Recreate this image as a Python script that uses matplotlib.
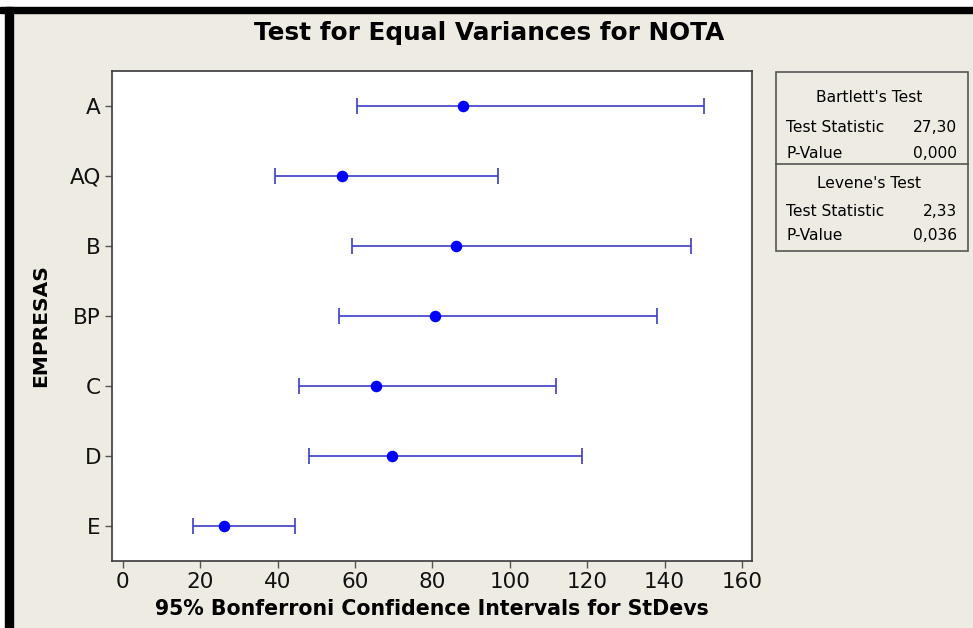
import matplotlib.pyplot as plt
from matplotlib.patches import Rectangle

# Intervalos de Bonferroni (95%) para o desvio padrão de NOTA por empresa
empresas = ['A', 'AQ', 'B', 'BP', 'C', 'D', 'E']
desvio = [87.8, 56.7, 86.0, 80.6, 65.5, 69.5, 26.2]
inferior = [60.6, 39.2, 59.3, 55.8, 45.4, 48.1, 18.1]
superior = [150.1, 96.9, 146.9, 138.0, 111.9, 118.6, 44.4]

xticks = [0, 20, 40, 60, 80, 100, 120, 140, 160]

bartlett_stat = '27,30'
bartlett_p = '0,000'
levene_stat = '2,33'
levene_p = '0,036'

fundo = '#EEEBE2'
W, H = 973, 628

fig = plt.figure(figsize=(9.73, 6.28), dpi=100, facecolor=fundo)

# moldura preta (topo e lado esquerdo)
fig.patches.append(Rectangle((0, 1 - 7 / H), 1, 7 / H, transform=fig.transFigure,
                             color='white', zorder=0))
fig.patches.append(Rectangle((0, 0), 5 / W, 1, transform=fig.transFigure,
                             color='white', zorder=0))
fig.patches.append(Rectangle((0, 1 - 13 / H), 1, 6 / H, transform=fig.transFigure,
                             color='black', zorder=1))
fig.patches.append(Rectangle((5 / W, 0), 8 / W, 1 - 7 / H, transform=fig.transFigure,
                             color='black', zorder=1))

ax = fig.add_axes([112 / W, (H - 561) / H, 640 / W, 490 / H])
ax.set_facecolor('white')

ypos = list(range(len(empresas)))
xerr = [[d - lo for d, lo in zip(desvio, inferior)],
        [hi - d for d, hi in zip(desvio, superior)]]
ax.errorbar(desvio, ypos, xerr=xerr, fmt='none', ecolor='#3C3CC8',
            elinewidth=1.2, capsize=5.8, capthick=1.2)
ax.plot(desvio, ypos, 'o', color='#0000FF', markersize=7.3, zorder=3)

ax.set_xlim(-2.8, 162.6)
ax.set_ylim(len(empresas) - 0.5, -0.5)
ax.set_yticks(ypos)
ax.set_yticklabels(empresas)
ax.set_xticks(xticks)

for s in ax.spines.values():
    s.set_color('#3A3A3A')
    s.set_linewidth(1.2)
ax.tick_params(axis='both', direction='out', length=5, width=1, color='#555555',
               labelsize=15.5, labelcolor='#111111')
ax.tick_params(axis='x', pad=3)
ax.tick_params(axis='y', pad=3)

ax.set_xlabel('95% Bonferroni Confidence Intervals for StDevs', fontsize=14.8,
              fontweight='bold', labelpad=5)
ax.set_ylabel('EMPRESAS', fontsize=14.5, fontweight='bold')
ax.yaxis.set_label_coords(-0.097, 0.48)

fig.text(489 / W, 1 - 33 / H, 'Test for Equal Variances for NOTA', fontsize=17.8,
         fontweight='bold', ha='center', va='center')

# caixa com os testes de Bartlett e Levene
x0, x1 = 776 / W, 968 / W
y_top, y_mid, y_bot = 1 - 72 / H, 1 - 164 / H, 1 - 251 / H
fig.patches.append(Rectangle((x0, y_bot), x1 - x0, y_top - y_bot,
                             transform=fig.transFigure, facecolor=fundo,
                             edgecolor='#555555', linewidth=1.2, zorder=2))
fig.add_artist(plt.Line2D([x0, x1], [y_mid, y_mid], transform=fig.transFigure,
                          color='#555555', linewidth=1.2, zorder=3))

fs = 11.2
xl, xr, xc = 786 / W, 957 / W, 869 / W
fig.text(xc, 1 - 98 / H, "Bartlett's Test", fontsize=fs, ha='center', va='center')
fig.text(xl, 1 - 128 / H, 'Test Statistic', fontsize=fs, ha='left', va='center')
fig.text(xr, 1 - 128 / H, bartlett_stat, fontsize=fs, ha='right', va='center')
fig.text(xl, 1 - 153 / H, 'P-Value', fontsize=fs, ha='left', va='center')
fig.text(xr, 1 - 153 / H, bartlett_p, fontsize=fs, ha='right', va='center')
fig.text(xc, 1 - 183 / H, "Levene's Test", fontsize=fs, ha='center', va='center')
fig.text(xl, 1 - 211 / H, 'Test Statistic', fontsize=fs, ha='left', va='center')
fig.text(xr, 1 - 211 / H, levene_stat, fontsize=fs, ha='right', va='center')
fig.text(xl, 1 - 236 / H, 'P-Value', fontsize=fs, ha='left', va='center')
fig.text(xr, 1 - 236 / H, levene_p, fontsize=fs, ha='right', va='center')

fig.savefig('out.png', dpi=100, facecolor=fundo)
